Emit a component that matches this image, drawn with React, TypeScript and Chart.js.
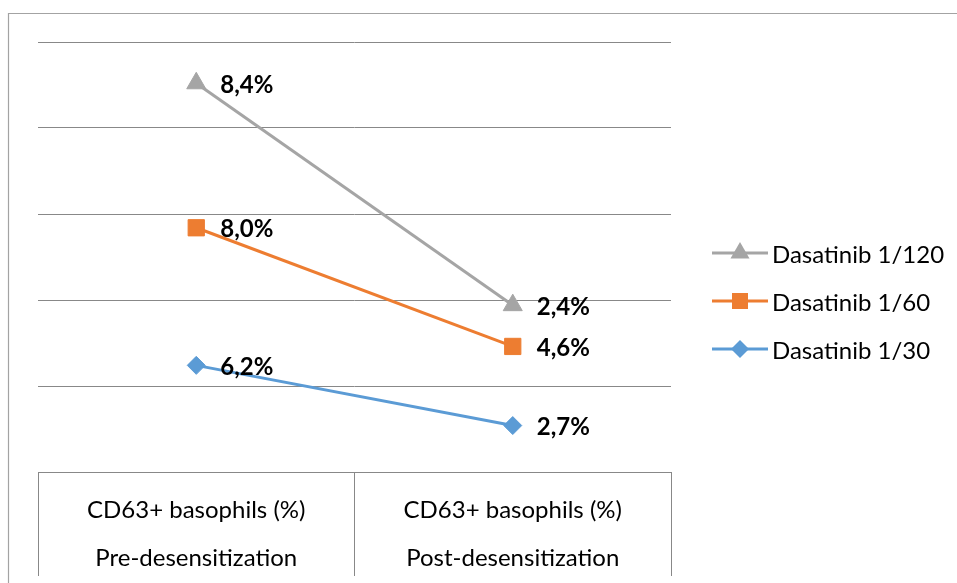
import React, { useEffect, useRef } from 'react';
import { Chart, registerables } from 'chart.js';

Chart.register(...registerables);

// ---- data ----
const categories: string[][] = [
  ['CD63+ basophils (%)', 'Pre-desensitization'],
  ['CD63+ basophils (%)', 'Post-desensitization'],
];
const seriesNames = ['Dasatinib 1/30', 'Dasatinib 1/60', 'Dasatinib 1/120'];
const dasatinib30 = [6.2, 2.7];
const dasatinib60 = [8.0, 4.6];
const dasatinib120 = [8.4, 2.4];
const yMin = 0;
const yMax = 25;
const yStep = 5;

// ---- styles ----
const FONT = 'Lato';
const FS = 24;
const GRID = '#888888';
const BLUE = '#5B9BD5';
const ORANGE = '#ED7D31';
const GRAY = '#A5A5A5';

const seriesStyles = [
  { color: BLUE, pointStyle: 'rectRot', radius: 9 },
  { color: ORANGE, pointStyle: 'rect', radius: 11.5 },
  { color: GRAY, pointStyle: 'triangle', radius: 11 },
];
const seriesData = [dasatinib30, dasatinib60, dasatinib120];

const frame = {
  id: 'frame',
  beforeDraw(chart: any) {
    const ctx = chart.ctx;
    ctx.save();
    ctx.strokeStyle = '#a3a3a3';
    ctx.lineWidth = 1.2;
    ctx.beginPath();
    ctx.moveTo(8.5, chart.height);
    ctx.lineTo(8.5, 13.5);
    ctx.lineTo(chart.width, 13.5);
    ctx.stroke();
    ctx.restore();
  },
};

const valueLabels = {
  id: 'valueLabels',
  afterDatasetsDraw(chart: any) {
    const ctx = chart.ctx;
    ctx.save();
    ctx.font = `bold ${FS}px ${FONT}`;
    ctx.fillStyle = '#000';
    ctx.textAlign = 'left';
    ctx.textBaseline = 'middle';
    chart.data.datasets.forEach((ds: any, i: number) => {
      const meta = chart.getDatasetMeta(i);
      meta.data.forEach((pt: any, j: number) => {
        const v = ds.data[j] as number;
        const txt = v.toFixed(1).replace('.', ',') + '%';
        ctx.fillText(txt, pt.x + 24, pt.y + 2);
      });
    });
    ctx.restore();
  },
};

function Marker({ style, color }: { style: string; color: string }) {
  let shape: React.ReactNode = null;
  const cx = 32;
  const cy = 13;
  if (style === 'triangle') {
    const r = 11;
    shape = (
      <polygon
        points={`${cx},${cy - r} ${cx + r * 0.866},${cy + r / 2} ${cx - r * 0.866},${cy + r / 2}`}
        fill={color}
      />
    );
  } else if (style === 'rect') {
    const h = 8;
    shape = <rect x={cx - h} y={cy - h} width={2 * h} height={2 * h} fill={color} />;
  } else {
    const r = 9;
    shape = (
      <polygon points={`${cx},${cy - r} ${cx + r},${cy} ${cx},${cy + r} ${cx - r},${cy}`} fill={color} />
    );
  }
  return (
    <svg width={60} height={26} style={{ display: 'block' }}>
      <line x1={4} y1={13} x2={60} y2={13} stroke={color} strokeWidth={3} />
      {shape}
    </svg>
  );
}

const legendTops = [253, 301, 349];

export default function App() {
  const ref = useRef<HTMLCanvasElement>(null);
  useEffect(() => {
    if (!ref.current) return;
    const chart = new Chart(ref.current, {
      type: 'line',
      data: {
        labels: categories,
        datasets: seriesNames.map((name, i) => ({
          label: name,
          data: seriesData[i],
          borderColor: seriesStyles[i].color,
          backgroundColor: seriesStyles[i].color,
          pointBackgroundColor: seriesStyles[i].color,
          pointBorderColor: seriesStyles[i].color,
          pointStyle: seriesStyles[i].pointStyle as any,
          pointRadius: seriesStyles[i].radius,
          pointHoverRadius: seriesStyles[i].radius,
          pointBorderWidth: 1,
          borderWidth: 3,
          fill: false,
          tension: 0,
        })),
      },
      options: {
        animation: false,
        responsive: false,
        events: [],
        layout: { padding: { left: 38, top: 42, right: 286, bottom: 0 } },
        scales: {
          x: {
            offset: true,
            grid: {
              offset: true,
              drawOnChartArea: false,
              drawTicks: true,
              tickLength: 104,
              color: GRID,
              lineWidth: 1,
            },
            border: { display: true, color: GRID, width: 1 },
            title: {
              display: true,
              text: '',
              padding: 0,
              font: { size: 10, lineHeight: '91px' },
            },
            ticks: {
              padding: -90,
              color: '#000',
              autoSkip: false,
              maxRotation: 0,
              font: { family: FONT, size: FS, lineHeight: '48px' },
            },
          },
          y: {
            stacked: true,
            min: yMin,
            max: yMax,
            ticks: { display: false, stepSize: yStep },
            grid: { color: GRID, lineWidth: 1, drawTicks: false },
            border: { display: false },
          },
        },
        plugins: {
          tooltip: { enabled: false },
          legend: { display: false },
        },
      },
      plugins: [frame, valueLabels],
    });
    return () => chart.destroy();
  }, []);

  const legendOrder = [2, 1, 0];
  return (
    <div style={{ position: 'absolute', left: 0, top: 0, width: 957, height: 583, background: '#fff' }}>
      <canvas ref={ref} width={957} height={583} style={{ display: 'block' }} />
      {legendOrder.map((idx, k) => (
        <div
          key={idx}
          style={{
            position: 'absolute',
            left: 708,
            top: legendTops[k] - 24,
            height: 48,
            display: 'flex',
            alignItems: 'center',
            fontFamily: FONT,
            fontSize: FS,
            color: '#000',
            whiteSpace: 'nowrap',
          }}
        >
          <Marker style={seriesStyles[idx].pointStyle} color={seriesStyles[idx].color} />
          <span style={{ marginLeft: 4 }}>{seriesNames[idx]}</span>
        </div>
      ))}
    </div>
  );
}
